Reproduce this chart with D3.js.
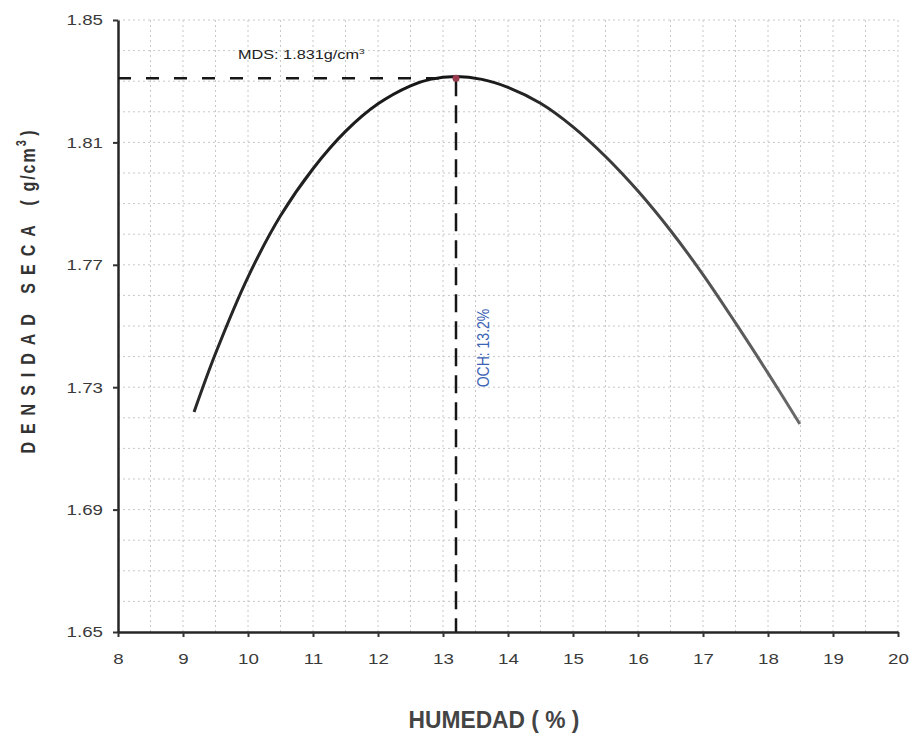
<!DOCTYPE html>
<html lang="es">
<head>
<meta charset="utf-8">
<title>Curva de compactación</title>
<style>
  body { margin: 0; background: #fff; }
  svg { display: block; }
</style>
</head>
<body>
<script src="https://cdn.jsdelivr.net/npm/d3@7"></script>
<script>
// tamaño
var w = 911, h = 736;

// datos
var humedad  = [9.17, 9.5, 10, 10.5, 11, 11.5, 12, 12.5, 12.8, 13.2, 13.6, 14, 14.5, 15, 15.5, 16, 16.5, 17, 17.5, 18, 18.49];
var densidad = [1.7219, 1.7410, 1.7660, 1.7860, 1.8014, 1.8136, 1.8226, 1.8285, 1.8306, 1.8315, 1.8306, 1.8280, 1.8228, 1.8151, 1.8054, 1.7941, 1.7812, 1.7668, 1.7510, 1.7346, 1.7180];

var xTicks = [8, 9, 10, 11, 12, 13, 14, 15, 16, 17, 18, 19, 20];
var yTicks = [1.65, 1.69, 1.73, 1.77, 1.81, 1.85];

var och = 13.2;    // óptimo contenido de humedad
var mds = 1.831;   // máxima densidad seca

var x = d3.scaleLinear().domain([8, 20]).range([118, 898]);
var y = d3.scaleLinear().domain([1.65, 1.85]).range([632, 20]);

// el escaneo original está estirado a lo ancho
var stretch = 1.25;

var svg = d3.select("body").append("svg")
    .attr("width", w)
    .attr("height", h)
    .style("font-family", "'Liberation Sans', Arial, sans-serif");

// cuadrícula punteada
var grid = svg.append("g").attr("stroke", "#c8c8c8").attr("stroke-width", 1).attr("stroke-dasharray", "2,3");
grid.selectAll("line.v")
    .data(x.ticks(24).filter(function(d) { return d > 8; }))
    .enter().append("line")
    .attr("x1", function(d) { return x(d); })
    .attr("x2", function(d) { return x(d); })
    .attr("y1", y(1.65))
    .attr("y2", y(1.85));
grid.selectAll("line.h")
    .data(y.ticks(20).filter(function(d) { return d > 1.651; }))
    .enter().append("line")
    .attr("x1", x(8))
    .attr("x2", x(20))
    .attr("y1", function(d) { return y(d); })
    .attr("y2", function(d) { return y(d); });

// ejes
var xAxis = svg.append("g")
    .attr("transform", "translate(0," + y(1.65) + ")")
    .call(d3.axisBottom(x).tickValues(xTicks).tickSize(5).tickSizeOuter(0).tickPadding(16).tickFormat(d3.format("d")));
var yAxis = svg.append("g")
    .attr("transform", "translate(" + x(8) + ",0)")
    .call(d3.axisLeft(y).tickValues(yTicks).tickSize(5).tickSizeOuter(0).tickPadding(10).tickFormat(d3.format(".2f")));

[xAxis, yAxis].forEach(function(a) {
  a.select(".domain").attr("stroke", "#262626").attr("stroke-width", 2.5);
  a.selectAll(".tick line").attr("stroke", "#333").attr("stroke-width", 2);
  a.selectAll(".tick text")
    .attr("fill", "#3a3a3a")
    .attr("font-size", 15)
    .attr("transform", "scale(" + stretch + ",1)")
    .style("font-family", "'Liberation Sans', Arial, sans-serif");
});
yAxis.selectAll(".tick text").attr("x", -15 / stretch);

// líneas de referencia
svg.append("line")
    .attr("x1", x(8)).attr("x2", x(och))
    .attr("y1", y(mds)).attr("y2", y(mds))
    .attr("stroke", "#161616").attr("stroke-width", 2.5)
    .attr("stroke-dasharray", "13,15");
svg.append("line")
    .attr("x1", x(och)).attr("x2", x(och))
    .attr("y1", y(mds)).attr("y2", y(1.65))
    .attr("stroke", "#161616").attr("stroke-width", 2.5)
    .attr("stroke-dasharray", "18,9");

// degradado de la curva (más gris a la derecha, como en el escaneo)
var grad = svg.append("defs").append("linearGradient")
    .attr("id", "curva")
    .attr("gradientUnits", "userSpaceOnUse")
    .attr("x1", x(9)).attr("x2", x(18.5))
    .attr("y1", 0).attr("y2", 0);
grad.append("stop").attr("offset", "0%").attr("stop-color", "#2a2a2a");
grad.append("stop").attr("offset", "45%").attr("stop-color", "#141414");
grad.append("stop").attr("offset", "100%").attr("stop-color", "#6a6a6a");

var line = d3.line()
    .x(function(d, i) { return x(humedad[i]); })
    .y(function(d) { return y(d); })
    .curve(d3.curveCatmullRom.alpha(0.5));

svg.append("path")
    .datum(densidad)
    .attr("d", line)
    .attr("fill", "none")
    .attr("stroke", "url(#curva)")
    .attr("stroke-width", 3);

// punto máximo
svg.append("circle")
    .attr("cx", x(och)).attr("cy", y(mds))
    .attr("r", 3.5)
    .attr("fill", "#9a3b4f");

// etiquetas
var mdsText = svg.append("text")
    .attr("transform", "translate(238,59) scale(" + stretch + ",1)")
    .attr("font-size", 13)
    .attr("fill", "#222");
mdsText.append("tspan").text("MDS: 1.831g/cm");
mdsText.append("tspan").attr("font-size", 8).attr("dy", -5).text("3");

svg.append("text")
    .attr("transform", "translate(" + (x(och) + 33) + ",348) scale(1.2,1) rotate(-90)")
    .attr("text-anchor", "middle")
    .attr("font-size", 14)
    .attr("fill", "#3b63b5")
    .text("OCH: 13.2%");

// título eje Y
var yt = svg.append("text")
    .attr("transform", "translate(35,292) scale(1.3,1) rotate(-90)")
    .attr("text-anchor", "middle")
    .attr("font-size", 16)
    .attr("font-weight", "bold")
    .attr("fill", "#333");
yt.append("tspan").style("letter-spacing", "8px").text("DENSIDAD SECA ");
yt.append("tspan").style("letter-spacing", "2px").text(" ( g/cm");
yt.append("tspan").attr("font-size", 11).attr("dy", -7).text("3");
yt.append("tspan").attr("dy", 7).text(" )");

// título eje X
svg.append("text")
    .attr("transform", "translate(494,728) scale(0.95,1)")
    .attr("text-anchor", "middle")
    .attr("font-size", 24)
    .attr("font-weight", "bold")
    .attr("fill", "#444")
    .text("HUMEDAD ( % )");
</script>
</body>
</html>
